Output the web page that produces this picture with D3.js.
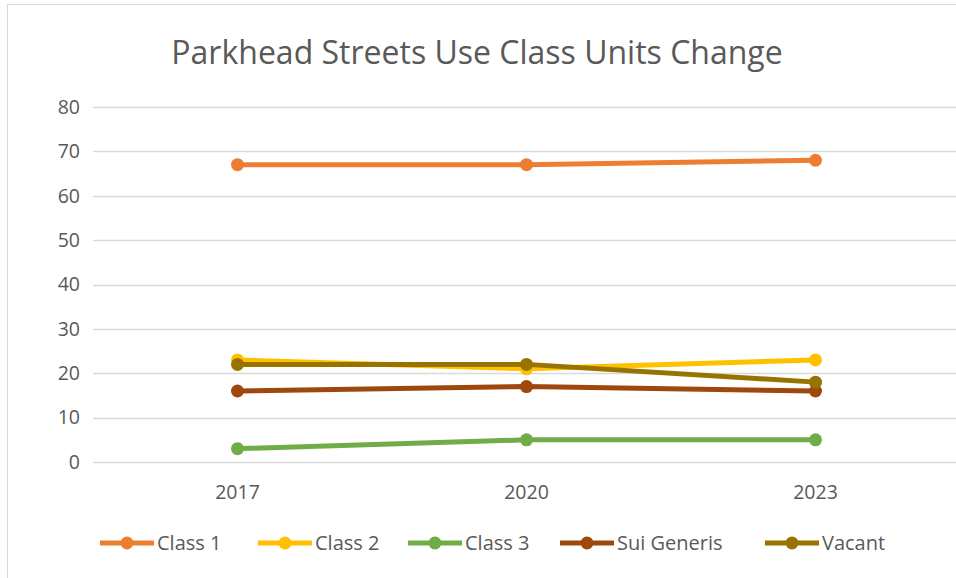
<!DOCTYPE html>
<html>
<head>
<meta charset="utf-8">
<script src="https://cdn.jsdelivr.net/npm/d3@7"></script>
<style>
  body { margin: 0; background: #fff; }
  text { font-family: "Open Sans", "Noto Sans", sans-serif; fill: #595959; }
</style>
</head>
<body>
<div id="chart"></div>
<script>
// chart data
const years = ["2017", "2020", "2023"];
const seriesNames = ["Class 1", "Class 2", "Class 3", "Sui Generis", "Vacant"];
const class1 = [67, 67, 68];
const class2 = [23, 21, 23];
const class3 = [3, 5, 5];
const suiGeneris = [16, 17, 16];
const vacant = [22, 22, 18];
const yTicks = [0, 10, 20, 30, 40, 50, 60, 70, 80];

const colors = ["#ED7D31", "#FFC000", "#70AD47", "#9E480E", "#997300"];
const seriesValues = [class1, class2, class3, suiGeneris, vacant];

const width = 956, height = 578;
const margin = { top: 107, right: -4, bottom: 116, left: 93 };

const svg = d3.select("#chart")
  .append("svg")
  .attr("width", width)
  .attr("height", height);

// outer chart border (cut off at right/bottom like the reference)
svg.append("rect")
  .attr("x", 7.5)
  .attr("y", 4.5)
  .attr("width", 960)
  .attr("height", 590)
  .attr("fill", "#fff")
  .attr("stroke", "#d9d9d9")
  .attr("stroke-width", 1);

const x = d3.scaleBand()
  .domain(years)
  .range([margin.left, width - margin.right]);

const y = d3.scaleLinear()
  .domain([0, 80])
  .range([height - margin.bottom, margin.top]);

// title
svg.append("text")
  .attr("x", 477)
  .attr("y", 64)
  .attr("text-anchor", "middle")
  .style("font-size", "32px")
  .text("Parkhead Streets Use Class Units Change");

// gridlines
svg.append("g")
  .selectAll("line")
  .data(yTicks)
  .join("line")
  .attr("x1", margin.left)
  .attr("x2", width - margin.right)
  .attr("y1", d => Math.round(y(d)) + 0.5)
  .attr("y2", d => Math.round(y(d)) + 0.5)
  .attr("stroke", "#d9d9d9")
  .attr("stroke-width", 1.3);

// y axis labels
const yAxis = d3.axisLeft(y).tickValues(yTicks).tickSize(0).tickPadding(13);
svg.append("g")
  .attr("transform", `translate(${margin.left},0)`)
  .call(yAxis)
  .call(g => g.select(".domain").remove())
  .selectAll("text")
  .style("font-size", "19.5px")
  .attr("fill", "#595959")
  .attr("font-family", null);

// x axis labels
const xAxis = d3.axisBottom(x).tickSize(0).tickPadding(23);
svg.append("g")
  .attr("transform", `translate(0,${y(0)})`)
  .call(xAxis)
  .call(g => g.select(".domain").remove())
  .selectAll("text")
  .style("font-size", "19.5px")
  .attr("fill", "#595959")
  .attr("font-family", null);

const line = d3.line()
  .x((d, i) => x(years[i]) + x.bandwidth() / 2)
  .y(d => y(d));

const series = svg.append("g")
  .selectAll("g")
  .data(seriesValues)
  .join("g");

series.append("path")
  .attr("d", d => line(d))
  .attr("fill", "none")
  .attr("stroke", (d, i) => colors[i])
  .attr("stroke-width", 5)
  .attr("stroke-linejoin", "round");

series.each(function(vals, si) {
  d3.select(this).selectAll("circle")
    .data(vals)
    .join("circle")
    .attr("cx", (d, i) => x(years[i]) + x.bandwidth() / 2)
    .attr("cy", d => y(d))
    .attr("r", 6.5)
    .attr("fill", colors[si]);
});

// legend
const legendX = [100, 258, 408, 560, 765];
const legend = svg.append("g")
  .selectAll("g")
  .data(seriesNames)
  .join("g")
  .attr("transform", (d, i) => `translate(${legendX[i]},543)`);

legend.append("line")
  .attr("x1", 0)
  .attr("x2", 54)
  .attr("stroke", (d, i) => colors[i])
  .attr("stroke-width", 5);

legend.append("circle")
  .attr("cx", 27)
  .attr("r", 6.5)
  .attr("fill", (d, i) => colors[i]);

legend.append("text")
  .attr("x", 57)
  .attr("dy", "0.35em")
  .style("font-size", "20px")
  .text(d => d);
</script>
</body>
</html>
